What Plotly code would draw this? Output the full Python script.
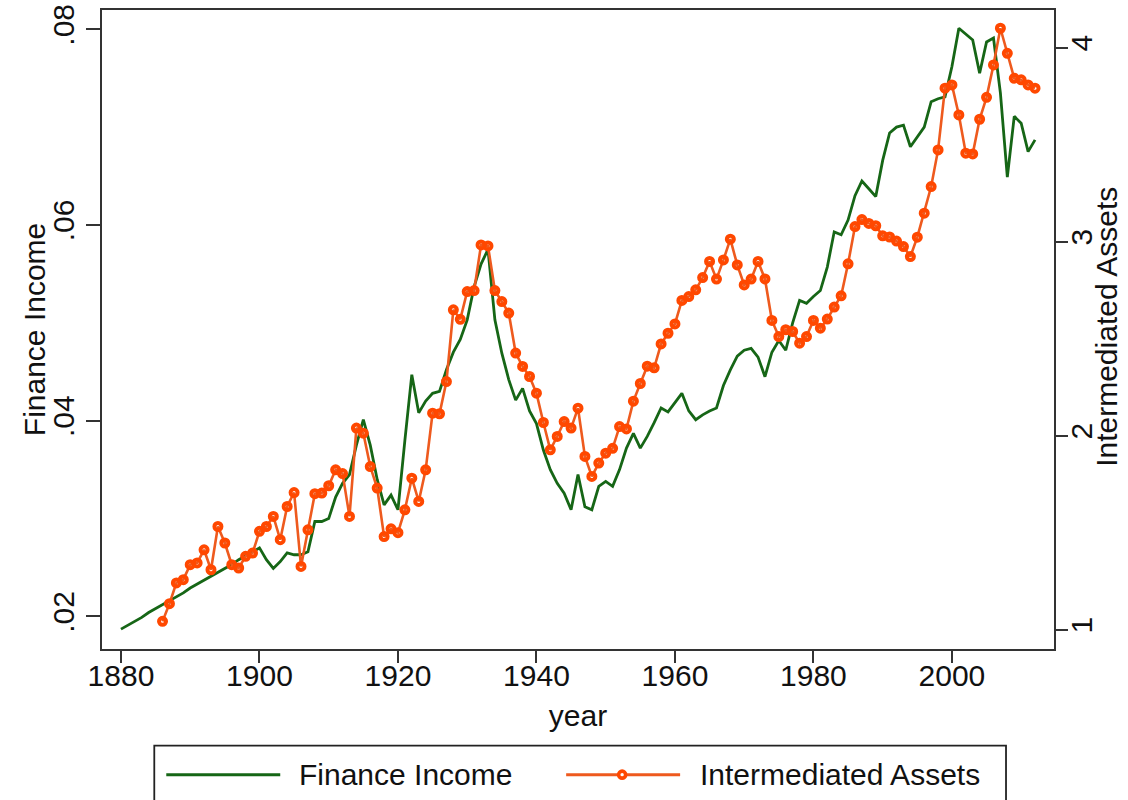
import plotly.graph_objects as go

# ---------------- data ----------------
fin_years = list(range(1880, 2013))
finance_income = [
    0.0187, 0.0191, 0.0195, 0.0199, 0.0204, 0.0208, 0.0212, 0.0216, 0.0220, 0.0224,  # 1880-1889
    0.0229, 0.0233, 0.0237, 0.0241, 0.0245, 0.0249, 0.0253, 0.0258, 0.0262, 0.0266,  # 1890-1899
    0.0270, 0.0258, 0.0249, 0.0256, 0.0265, 0.0263, 0.0263, 0.0266, 0.0297, 0.0297,  # 1900-1909
    0.0300, 0.0322, 0.0336, 0.0345, 0.0375, 0.0401, 0.0375, 0.0340, 0.0314, 0.0324,  # 1910-1919
    0.0309, 0.0380, 0.0447, 0.0408, 0.0420, 0.0428, 0.0430, 0.0452, 0.0470, 0.0483,  # 1920-1929
    0.0503, 0.0537, 0.0560, 0.0575, 0.0503, 0.0469, 0.0442, 0.0421, 0.0433, 0.0410,  # 1930-1939
    0.0397, 0.0370, 0.0350, 0.0336, 0.0326, 0.0309, 0.0345, 0.0312, 0.0309, 0.0333,  # 1940-1949
    0.0338, 0.0333, 0.0350, 0.0372, 0.0387, 0.0372, 0.0384, 0.0398, 0.0413, 0.0409,  # 1950-1959
    0.0418, 0.0428, 0.0410, 0.0401, 0.0406, 0.0410, 0.0413, 0.0436, 0.0452, 0.0466,  # 1960-1969
    0.0472, 0.0474, 0.0465, 0.0445, 0.0470, 0.0482, 0.0472, 0.0500, 0.0523, 0.0520,  # 1970-1979
    0.0527, 0.0533, 0.0557, 0.0593, 0.0590, 0.0605, 0.0630, 0.0645, 0.0637, 0.0629,  # 1980-1989
    0.0666, 0.0694, 0.0700, 0.0702, 0.0680, 0.0690, 0.0700, 0.0726, 0.0729, 0.0731,  # 1990-1999
    0.0762, 0.0801, 0.0795, 0.0789, 0.0755, 0.0787, 0.0791, 0.0735, 0.0649, 0.0711,  # 2000-2009
    0.0704, 0.0675, 0.0687,                                                          # 2010-2012
]

asset_years = list(range(1886, 2013))
intermediated_assets = [
    1.043, 1.134, 1.241, 1.258,                                                      # 1886-1889
    1.335, 1.344, 1.412, 1.309, 1.532, 1.447, 1.335, 1.318, 1.378, 1.395,            # 1890-1899
    1.507, 1.532, 1.584, 1.464, 1.635, 1.707, 1.326, 1.515, 1.701, 1.704,            # 1900-1909
    1.742, 1.824, 1.805, 1.584, 2.039, 2.013, 1.841, 1.730, 1.480, 1.520,            # 1910-1919
    1.500, 1.618, 1.781, 1.661, 1.824, 2.116, 2.113, 2.279, 2.649, 2.600,            # 1920-1929
    2.743, 2.748, 2.983, 2.978, 2.748, 2.691, 2.632, 2.426, 2.357, 2.305,            # 1930-1939
    2.219, 2.068, 1.927, 1.996, 2.073, 2.039, 2.142, 1.893, 1.790, 1.859,            # 1940-1949
    1.910, 1.935, 2.047, 2.035, 2.178, 2.269, 2.358, 2.350, 2.473, 2.528,            # 1950-1959
    2.576, 2.697, 2.717, 2.752, 2.815, 2.898, 2.807, 2.906, 3.013, 2.880,            # 1960-1969
    2.777, 2.807, 2.898, 2.808, 2.594, 2.511, 2.546, 2.537, 2.477, 2.511,            # 1970-1979
    2.594, 2.554, 2.601, 2.663, 2.721, 2.886, 3.078, 3.114, 3.094, 3.082,            # 1980-1989
    3.030, 3.024, 3.003, 2.975, 2.923, 3.023, 3.147, 3.284, 3.473, 3.791,            # 1990-1999
    3.808, 3.653, 3.456, 3.452, 3.631, 3.744, 3.911, 4.100, 3.971, 3.842,            # 2000-2009
    3.834, 3.808, 3.791,                                                             # 2010-2012
]

x_ticks = [1880, 1900, 1920, 1940, 1960, 1980, 2000]
left_ticks = [0.02, 0.04, 0.06, 0.08]
left_ticktext = [".02", ".04", ".06", ".08"]
right_ticks = [1, 2, 3, 4]
right_ticktext = ["1", "2", "3", "4"]

series_names = ["Finance Income", "Intermediated Assets"]
x_title = "year"

# ---------------- style ----------------
W, H = 1128, 800
PL, PR, PT, PB = 101.7, 1054.0, 10.0, 649.3   # plot frame in pixels
GREEN = "rgb(22,102,22)"
ORANGE_LINE = "rgb(238,90,30)"
ORANGE_MK = "rgb(255,72,0)"
AXIS = "#333333"
FONT = "Liberation Sans, Arial, sans-serif"
FS = 30


def px_x(px):
    return (px - PL) / (PR - PL)


def px_y(py):
    return (PB - py) / (PB - PT)


fig = go.Figure()
fig.add_trace(go.Scatter(
    x=fin_years, y=finance_income, name=series_names[0], mode="lines",
    line=dict(color=GREEN, width=2.8), yaxis="y", showlegend=False,
))
fig.add_trace(go.Scatter(
    x=asset_years, y=intermediated_assets, name=series_names[1], mode="lines+markers",
    line=dict(color=ORANGE_LINE, width=2.6),
    marker=dict(symbol="circle-open", size=7, color=ORANGE_MK, line=dict(width=4, color=ORANGE_MK)),
    yaxis="y2", showlegend=False,
))

axis_common = dict(
    showgrid=False, zeroline=False, showline=True, linecolor=AXIS, linewidth=1.8,
    ticks="outside", tickcolor=AXIS, tickwidth=1.5,
    tickfont=dict(family=FONT, size=FS, color="#111"),
)

fig.update_layout(
    width=W, height=H,
    margin=dict(l=PL, r=W - PR, t=PT, b=H - PB, autoexpand=False),
    paper_bgcolor="white", plot_bgcolor="white",
    font=dict(family=FONT, size=FS, color="#111"),
    showlegend=False,
    xaxis=dict(
        **axis_common, range=[1877.26, 2014.74], tickvals=x_ticks, ticklen=12,
        mirror=True, ticklabelstandoff=-13,
        title=dict(text=x_title, font=dict(family=FONT, size=FS), standoff=14),
    ),
    yaxis=dict(
        **axis_common, range=[0.01667, 0.08197], tickvals=left_ticks, ticktext=left_ticktext,
        ticklen=14, tickangle=-90, ticklabelstandoff=0,
    ),
    yaxis2=dict(
        **axis_common, range=[0.9006, 4.194], tickvals=right_ticks, ticktext=right_ticktext,
        ticklen=12, tickangle=-90, overlaying="y", side="right", ticklabelstandoff=-12,
    ),
)

# y-axis titles
fig.add_annotation(text=series_names[0], xref="paper", yref="paper",
                   x=px_x(35), y=px_y(330), xanchor="center", yanchor="middle",
                   textangle=-90, showarrow=False, borderpad=0,
                   font=dict(family=FONT, size=FS, color="#111"))
fig.add_annotation(text=series_names[1], xref="paper", yref="paper",
                   x=px_x(1107), y=px_y(327), xanchor="center", yanchor="middle",
                   textangle=-90, showarrow=False, borderpad=0,
                   font=dict(family=FONT, size=FS, color="#111"))

# ---------------- legend box (drawn below the plot) ----------------
LEG_Y = 775
shapes = [
    dict(type="rect", xref="paper", yref="paper",
         x0=px_x(154), x1=px_x(1006), y0=px_y(806), y1=px_y(746),
         line=dict(color="#222", width=1.8), fillcolor="white", layer="above"),
    dict(type="line", xref="paper", yref="paper",
         x0=px_x(166), x1=px_x(280), y0=px_y(LEG_Y), y1=px_y(LEG_Y),
         line=dict(color=GREEN, width=3)),
    dict(type="line", xref="paper", yref="paper",
         x0=px_x(566), x1=px_x(680), y0=px_y(LEG_Y), y1=px_y(LEG_Y),
         line=dict(color=ORANGE_LINE, width=3)),
    dict(type="circle", xref="paper", yref="paper",
         x0=px_x(618.5), x1=px_x(625.5), y0=px_y(LEG_Y + 3.5), y1=px_y(LEG_Y - 3.5),
         line=dict(color=ORANGE_MK, width=3.6), fillcolor="white"),
]
fig.update_layout(shapes=shapes)

fig.add_annotation(text=series_names[0], xref="paper", yref="paper",
                   x=px_x(297), y=px_y(LEG_Y), xanchor="left", yanchor="middle",
                   showarrow=False, font=dict(family=FONT, size=FS, color="#111"))
fig.add_annotation(text=series_names[1], xref="paper", yref="paper",
                   x=px_x(698), y=px_y(LEG_Y), xanchor="left", yanchor="middle",
                   showarrow=False, font=dict(family=FONT, size=FS, color="#111"))

fig.write_html(
    "out.html",
    config={"displayModeBar": False},
    post_script="document.body.style.margin='0px';document.body.style.padding='0px';",
)
